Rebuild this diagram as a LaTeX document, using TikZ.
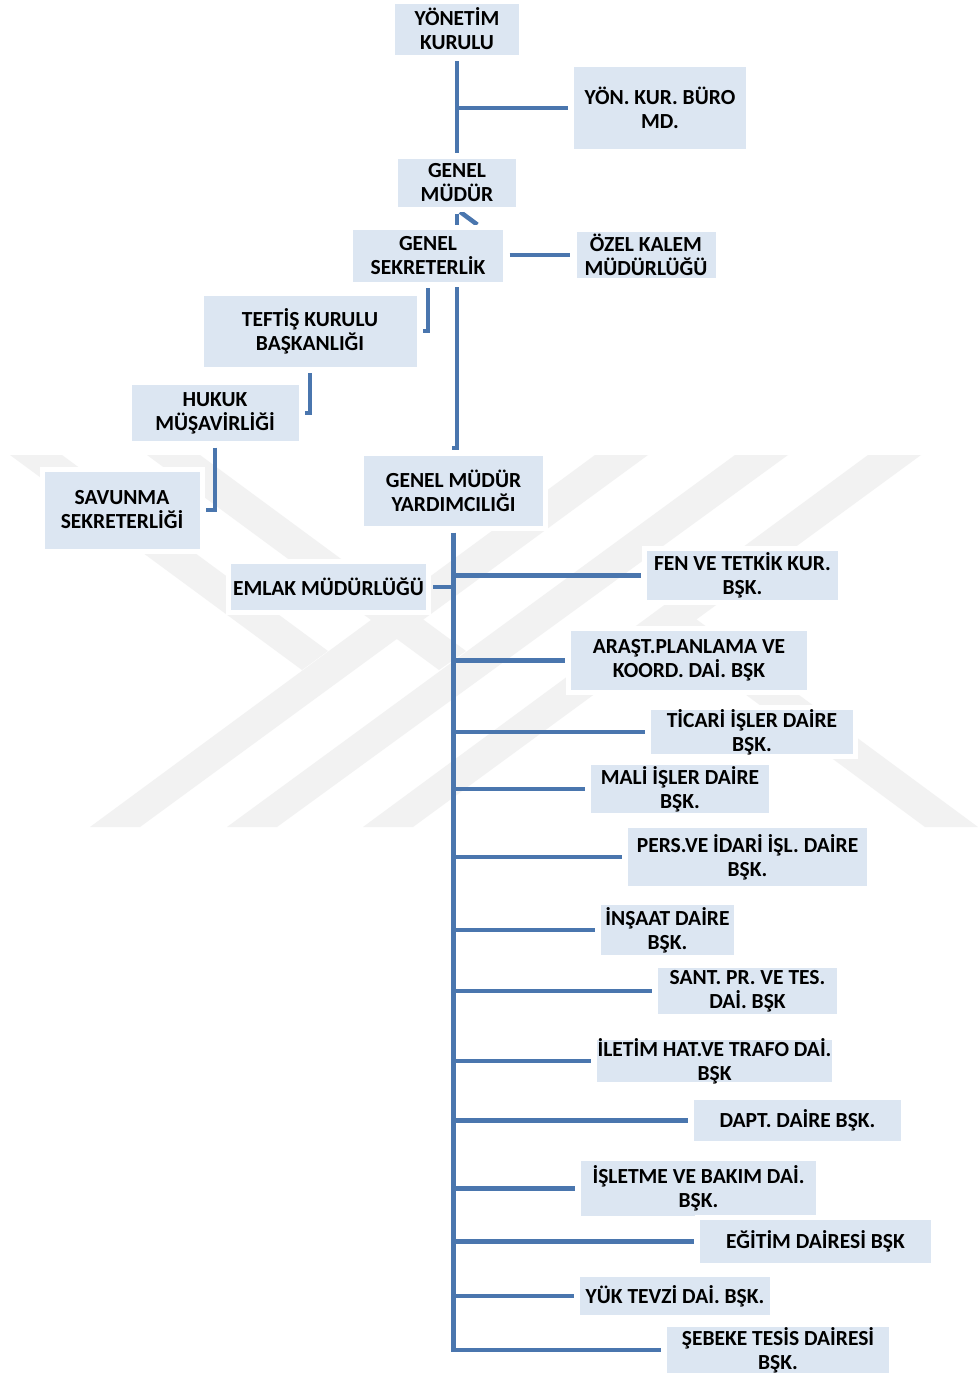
\documentclass[tikz,border=0pt]{standalone}
\usepackage{fontspec}
\newfontfamily\orgfont{Carlito}
\usetikzlibrary{backgrounds}
\definecolor{BoxBlue}{HTML}{DCE6F2}
\definecolor{LineBlue}{HTML}{4A76AE}
\definecolor{MarkGray}{HTML}{F2F2F2}

\begin{document}
\begin{tikzpicture}[x=1pt, y=-1pt,
    unit/.style={rectangle, fill=BoxBlue, draw=white, line width=5pt, outer sep=0pt,
                 inner sep=0pt, align=center, text=black,
                 font=\orgfont\bfseries\fontsize{21.5}{24}\selectfont},
    conn/.style={draw=LineBlue, line width=4.5pt, shorten <=4pt, shorten >=4pt},
    tap/.style={conn, shorten <=0pt}
  ]
  \useasboundingbox (0,0) rectangle (978,1376);

  % top of the chart
  \node[unit, minimum width=129pt, minimum height=56pt] (yk) at (457,29) {YÖNETİM\\KURULU};
  \node[unit, minimum width=177pt, minimum height=87pt] (buro) at (660,108) {YÖN. KUR. BÜRO\\MD.};
  \node[unit, minimum width=123pt, minimum height=53pt] (gm) at (457,183) {GENEL\\MÜDÜR};
  \node[unit, minimum width=155pt, minimum height=57pt] (gs) at (428,255.5) {GENEL\\SEKRETERLİK};
  \node[unit, minimum width=144pt, minimum height=51pt] (ozk) at (646,255) {ÖZEL KALEM\\MÜDÜRLÜĞÜ};
  \node[unit, minimum width=218pt, minimum height=76pt] (tkb) at (310,331) {TEFTİŞ KURULU\\BAŞKANLIĞI};
  \node[unit, minimum width=172pt, minimum height=61pt] (hm) at (215,413) {HUKUK\\MÜŞAVİRLİĞİ};
  \node[unit, minimum width=160pt, minimum height=82pt] (ss) at (122,510) {SAVUNMA\\SEKRETERLİĞİ};
  \node[unit, minimum width=184pt, minimum height=75pt] (gmy) at (453.5,491) {GENEL MÜDÜR\\YARDIMCILIĞI};

  % units under the deputy
  \node[unit, minimum width=200pt, minimum height=51pt] (eml) at (328.5,587) {EMLAK MÜDÜRLÜĞÜ};
  \node[unit, minimum width=196pt, minimum height=54pt] (fen) at (742.5,575.5) {FEN VE TETKİK KUR.\\BŞK.};
  \node[unit, minimum width=241pt, minimum height=64pt] (arp) at (689,660.5) {ARAŞT.PLANLAMA VE\\KOORD. DAİ. BŞK};
  \node[unit, minimum width=207pt, minimum height=49pt] (tic) at (752,732) {TİCARİ İŞLER DAİRE\\BŞK.};
  \node[unit, minimum width=183pt, minimum height=53pt] (mal) at (680,789) {MALİ İŞLER DAİRE\\BŞK.};
  \node[unit, minimum width=244pt, minimum height=63pt] (per) at (747.5,857) {PERS.VE İDARİ İŞL. DAİRE\\BŞK.};
  \node[unit, minimum width=138pt, minimum height=55pt] (ins) at (667.5,930) {İNŞAAT DAİRE\\BŞK.};
  \node[unit, minimum width=184pt, minimum height=51pt] (snt) at (747.5,991) {SANT. PR. VE TES.\\DAİ. BŞK};
  \node[unit, minimum width=240pt, minimum height=47pt] (ilt) at (714.5,1061) {İLETİM HAT.VE TRAFO DAİ.\\BŞK};
  \node[unit, minimum width=212pt, minimum height=46pt] (dpt) at (797.5,1120.5) {DAPT. DAİRE BŞK.};
  \node[unit, minimum width=240pt, minimum height=60pt] (isb) at (698.5,1188.5) {İŞLETME VE BAKIM DAİ.\\BŞK.};
  \node[unit, minimum width=236pt, minimum height=48pt] (egt) at (815.5,1241.5) {EĞİTİM DAİRESİ BŞK};
  \node[unit, minimum width=195pt, minimum height=43pt] (yuk) at (675,1296) {YÜK TEVZİ DAİ. BŞK.};
  \node[unit, minimum width=227pt, minimum height=51pt] (seb) at (778,1350) {ŞEBEKE TESİS DAİRESİ\\BŞK.};

  % watermark and the links that pass behind boxes
  \begin{scope}[on background layer]
    \fill[white] (0,0) rectangle (978,1376);
    \fill[MarkGray] (90,827) -- (140,827) -- (648,455) -- (595,455) -- cycle;
    \fill[MarkGray] (227,827) -- (277,827) -- (788,455) -- (735,455) -- cycle;
    \fill[MarkGray] (363,827) -- (413,827) -- (921,455) -- (868,455) -- cycle;
    \fill[MarkGray] (10,455) -- (62,455) -- (328,651) -- (302,670) -- cycle;
    \fill[MarkGray] (147,455) -- (200,455) -- (466,651) -- (439,670) -- cycle;
    \fill[MarkGray] (669,638) -- (696,619) -- (978,827) -- (925,827) -- cycle;
    \draw[conn] (gm.south) -- ([xshift=-25pt]gs.north east);
    \draw[conn, shorten >=0pt] (gm.south) |- ([xshift=-1.5pt, yshift=5.5pt]gmy.north);
  \end{scope}

  \draw[conn] (yk) -- (gm);
  \draw[tap] (yk.south |- buro.west) -- (buro.west);
  \draw[conn] (gs.east |- ozk.west) -- (ozk.west);
  \draw[conn] (gs.south) |- (tkb.east);
  \draw[conn] (tkb.south) |- (hm.east);
  \draw[conn] (hm.south) |- (ss.east);

  % spine of the deputy
  \draw[conn] (gmy.south) |- (seb.west);
  \draw[tap] (gmy.south |- eml.east) -- (eml.east);
  \draw[tap] (gmy.south |- fen.west) -- (fen.west);
  \draw[tap] (gmy.south |- arp.west) -- (arp.west);
  \draw[tap] (gmy.south |- tic.west) -- (tic.west);
  \draw[tap] (gmy.south |- mal.west) -- (mal.west);
  \draw[tap] (gmy.south |- per.west) -- (per.west);
  \draw[tap] (gmy.south |- ins.west) -- (ins.west);
  \draw[tap] (gmy.south |- snt.west) -- (snt.west);
  \draw[tap] (gmy.south |- ilt.west) -- (ilt.west);
  \draw[tap] (gmy.south |- dpt.west) -- (dpt.west);
  \draw[tap] (gmy.south |- isb.west) -- (isb.west);
  \draw[tap] (gmy.south |- egt.west) -- (egt.west);
  \draw[tap] (gmy.south |- yuk.west) -- (yuk.west);
\end{tikzpicture}
\end{document}
